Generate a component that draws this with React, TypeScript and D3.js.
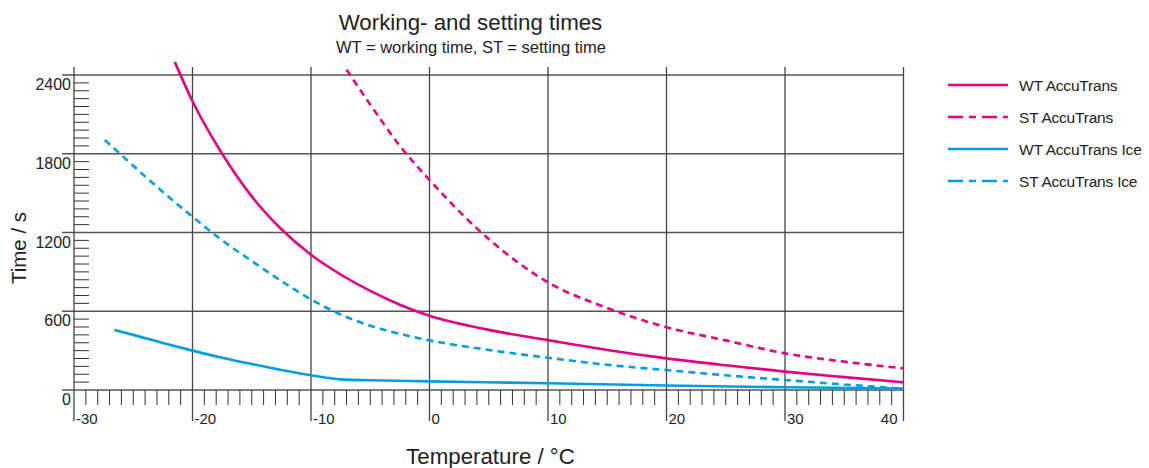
import * as d3 from "d3";

interface Pt {
  t: number;
  v: number;
}

// temperature (°C) and time (s)
const wtAccuT = [-21.5, -20, -17.5, -15, -12.5, -10, -7.5, -5, -2.5, 0, 5, 10, 15, 20, 25, 30, 35, 40];
const wtAccuV = [2500, 2200, 1800, 1475, 1225, 1030, 880, 755, 650, 565, 458, 380, 305, 241, 188, 140, 98, 58];

const stAccuT = [-7, -5, -2.5, 0, 5, 10, 15, 20, 25, 30, 35, 40];
const stAccuV = [2440, 2175, 1860, 1600, 1150, 820, 625, 478, 378, 279, 216, 165];

const wtIceT = [-26.6, -25, -22.5, -20, -17.5, -15, -12.5, -10, -7.5, -5, 0, 10, 20, 30, 40];
const wtIceV = [457, 420, 358, 300, 246, 198, 152, 112, 81, 74, 66, 51, 34, 21, 12];

const stIceT = [-27.4, -25, -22.5, -20, -17.5, -15, -12.5, -10, -7.5, -5, -2.5, 0, 5, 10, 15, 20, 25, 30, 35, 40];
const stIceV = [1905, 1709, 1509, 1320, 1140, 983, 830, 690, 575, 490, 428, 378, 305, 246, 192, 152, 112, 76, 42, 10];

const seriesNames = ["WT AccuTrans", "ST AccuTrans", "WT AccuTrans Ice", "ST AccuTrans Ice"];
const seriesColors = ["#e6007e", "#e6007e", "#009ee0", "#009ee0"];
const seriesDashed = [false, true, false, true];

const xMajor = [-30, -20, -10, 0, 10, 20, 30, 40];
const yMajor = [0, 600, 1200, 1800, 2400];

const zip = (t: number[], v: number[]): Pt[] => t.map((d, i) => ({ t: d, v: v[i] }));
const series = [zip(wtAccuT, wtAccuV), zip(stAccuT, stAccuV), zip(wtIceT, wtIceV), zip(stIceT, stIceV)];

const font = "'Liberation Sans', Arial, Helvetica, sans-serif";

export default function App() {
  const W = 1149,
    H = 468;
  const x = d3.scaleLinear().domain([-30, 40]).range([74, 903.5]);
  const y = d3.scaleLinear().domain([0, 2400]).range([390, 75]);
  const top = 67;

  const line = d3
    .line<Pt>()
    .x((d) => x(d.t))
    .y((d) => y(d.v))
    .curve(d3.curveMonotoneX);

  const xMinor = d3.range(-30, 41, 1).filter((d) => d % 10 !== 0);
  const yMinor = d3.range(60, 2400, 60).filter((d) => d % 600 !== 0);

  const dash = "7,5";

  return (
    <div style={{ position: "absolute", left: 0, top: 0 }}>
      <svg width={W} height={H} style={{ display: "block", fontFamily: font }}>
        <rect width={W} height={H} fill="#fff" />

        {/* ── TITLE ─────────────────────────── */}
        <text x={470.5} y={30} textAnchor="middle" fontSize={22.3} fill="#222">
          Working- and setting times
        </text>
        <text x={471} y={52.5} textAnchor="middle" fontSize={16.5} fill="#222">
          WT = working time, ST = setting time
        </text>

        {/* ── GRID ─────────────────────────── */}
        {yMajor.map((v) => (
          <line key={"hy" + v} x1={62} x2={x(40)} y1={y(v)} y2={y(v)} stroke="#555" strokeWidth={1.3} />
        ))}
        {xMajor.map((t) => (
          <line key={"vx" + t} x1={x(t)} x2={x(t)} y1={top} y2={421} stroke="#444" strokeWidth={1.3} />
        ))}

        {/* minor ticks */}
        {xMinor.map((t) => (
          <line key={"mx" + t} x1={x(t)} x2={x(t)} y1={y(0)} y2={405} stroke="#333" strokeWidth={1} />
        ))}
        {yMinor.map((v) => (
          <line key={"my" + v} x1={x(-30)} x2={x(-30) + 15} y1={y(v)} y2={y(v)} stroke="#333" strokeWidth={1} />
        ))}

        {/* tick labels */}
        {yMajor.map((v) => (
          <text key={"ly" + v} x={71} y={y(v) + 15} textAnchor="end" fontSize={16} fill="#222">
            {v}
          </text>
        ))}
        {xMajor.map((t, i) => {
          const last = i === xMajor.length - 1;
          return (
            <text
              key={"lx" + t}
              x={last ? x(t) - 6 : x(t) + 2}
              y={424}
              textAnchor={last ? "end" : "start"}
              fontSize={15}
              fill="#222"
            >
              {t}
            </text>
          );
        })}

        {/* axis titles */}
        <text x={490.5} y={464} textAnchor="middle" fontSize={22.3} fill="#222">
          Temperature / °C
        </text>
        <text transform={`translate(26,248) rotate(-90)`} textAnchor="middle" fontSize={20.5} fill="#222">
          Time / s
        </text>

        {/* ── CURVES ───────────────────────── */}
        {series.map((s, i) => (
          <path
            key={"s" + i}
            d={line(s) ?? ""}
            fill="none"
            stroke={seriesColors[i]}
            strokeWidth={2.6}
            strokeDasharray={seriesDashed[i] ? dash : undefined}
          />
        ))}

        {/* ── LEGEND ───────────────────────── */}
        {seriesNames.map((n, i) => {
          const ly = 85 + i * 32;
          return (
            <g key={"lg" + i}>
              <line
                x1={948}
                x2={1008}
                y1={ly}
                y2={ly}
                stroke={seriesColors[i]}
                strokeWidth={2.6}
                strokeDasharray={seriesDashed[i] ? "15,6,7,6" : undefined}
              />
              <text x={1019} y={ly + 5.5} fontSize={15.5} fill="#222" letterSpacing={-0.2}>
                {n}
              </text>
            </g>
          );
        })}
      </svg>
    </div>
  );
}
